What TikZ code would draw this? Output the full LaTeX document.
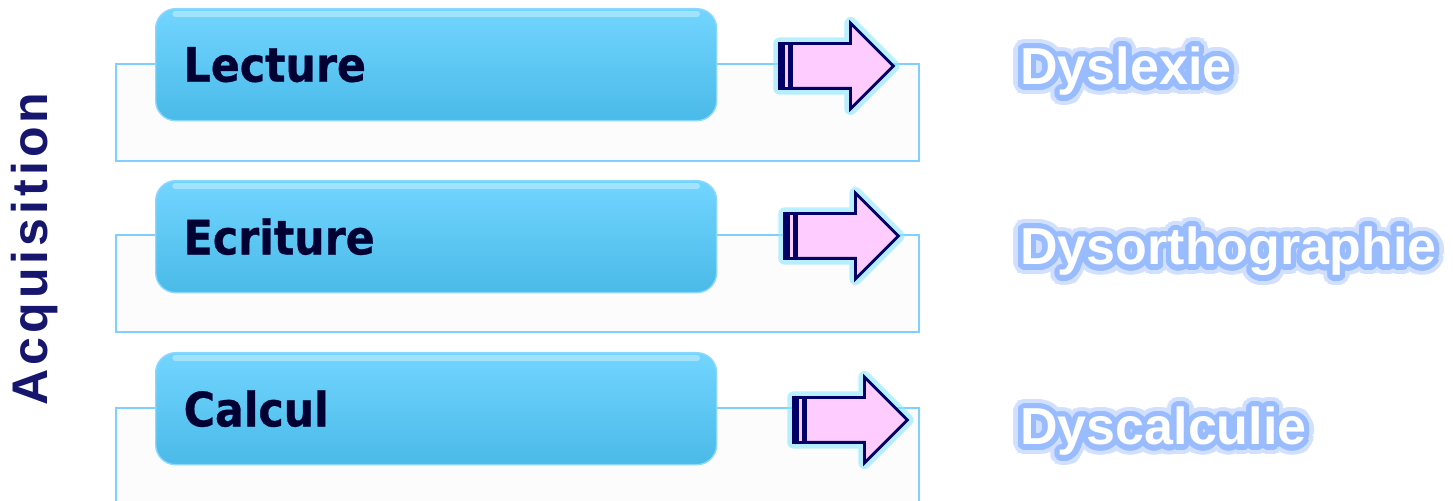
\documentclass[tikz,border=0pt]{standalone}
\usepackage{fontspec}
\setmainfont{Liberation Sans}
\newfontfamily\boxfont{DejaVuSansCondensed-Bold.ttf}[FakeBold=0.6]
\newfontfamily\acqfont{Liberation Sans Bold}[LetterSpace=8]
\newfontfamily\outfont{Liberation Sans Bold}
\usepackage{contour}
\contournumber{32}
\usetikzlibrary{shapes.arrows}
\definecolor{boxtop}{HTML}{72D5FF}
\definecolor{boxbottom}{HTML}{4ABAE8}
\definecolor{boxline}{HTML}{8AD8FF}
\definecolor{frameline}{HTML}{7FD0FF}
\definecolor{framefill}{HTML}{FCFCFC}
\definecolor{darknavy}{HTML}{000033}
\definecolor{arrownavy}{HTML}{000066}
\definecolor{arrowpink}{HTML}{FFCCFF}
\definecolor{arrowglow}{HTML}{8AE6FF}
\definecolor{textglow}{HTML}{99BBFF}
\definecolor{softglow}{HTML}{D2E0FF}
\definecolor{titlenavy}{HTML}{16166E}

\begin{document}
\begin{tikzpicture}
  \tikzstyle{frame} = [rectangle, draw=frameline, line width=1.1pt, fill=framefill, minimum width=16.06cm, minimum height=1.94cm, inner sep=0pt, anchor=north west]
  \tikzstyle{bluebox} = [rectangle, rounded corners=0.4cm, draw=boxline, line width=0.8pt, top color=boxtop, bottom color=boxbottom, minimum height=2.24cm, text width=10.1cm, inner xsep=0.56cm, align=left, anchor=north west, text=darknavy, font=\boxfont\fontsize{27}{30}\selectfont]
  \tikzstyle{gloss} = [white, opacity=0.35, line width=3pt, line cap=round]
  \tikzstyle{blockarrow} = [single arrow, draw=arrownavy, line width=1.6pt, fill=arrowpink, minimum height=2.28cm, single arrow head extend=0.41cm, inner ysep=0.42cm, inner xsep=0pt, anchor=tail, preaction={draw=arrowglow, line width=7pt, opacity=0.6, line join=round}]
  \tikzstyle{tailbar} = [fill=arrownavy]
  \tikzstyle{tailline} = [draw=arrowpink, line width=1.6pt, shorten >=1.6pt, shorten <=1.6pt]
  \tikzstyle{outcome} = [anchor=base west, inner sep=0pt, text=white, font=\outfont\fontsize{29.6}{32}\selectfont]
  \tikzstyle{halo} = [anchor=base west, inner sep=0pt, text=softglow, font=\outfont\fontsize{29.6}{32}\selectfont]
  \useasboundingbox (0,0) rectangle (29.06,10.02);
  % frames behind the boxes
  \node[frame] (frameLecture) at (2.30,8.76) {};
  \node[frame] (frameEcriture) at (2.30,5.34) {};
  \node[frame] (frameCalcul) at (2.30,1.88) {};
  % boxes
  \node[bluebox] (lecture) at (3.10,9.86) {Lecture};
  \node[bluebox] (ecriture) at (3.10,6.42) {Ecriture};
  \node[bluebox] (calcul) at (3.10,2.98) {Calcul};
  \draw[gloss] ([xshift=0.4cm,yshift=-0.12cm]lecture.north west) -- ([xshift=-0.4cm,yshift=-0.12cm]lecture.north east);
  \draw[gloss] ([xshift=0.4cm,yshift=-0.12cm]ecriture.north west) -- ([xshift=-0.4cm,yshift=-0.12cm]ecriture.north east);
  \draw[gloss] ([xshift=0.4cm,yshift=-0.12cm]calcul.north west) -- ([xshift=-0.4cm,yshift=-0.12cm]calcul.north east);
  % arrows
  \node[blockarrow] (arrLecture) at (15.56,8.70) {};
  \node[blockarrow] (arrEcriture) at (15.66,5.30) {};
  \node[blockarrow] (arrCalcul) at (15.84,1.62) {};
  \fill[tailbar] (arrLecture.before tail) rectangle ([xshift=0.3cm]arrLecture.after tail);
  \fill[tailbar] (arrEcriture.before tail) rectangle ([xshift=0.3cm]arrEcriture.after tail);
  \fill[tailbar] (arrCalcul.before tail) rectangle ([xshift=0.3cm]arrCalcul.after tail);
  \draw[tailline] ([xshift=0.17cm]arrLecture.before tail) -- ([xshift=0.17cm]arrLecture.after tail);
  \draw[tailline] ([xshift=0.17cm]arrEcriture.before tail) -- ([xshift=0.17cm]arrEcriture.after tail);
  \draw[tailline] ([xshift=0.17cm]arrCalcul.before tail) -- ([xshift=0.17cm]arrCalcul.after tail);
  % outcomes, soft halo first
  \node[halo] (dyslexieHalo) at (20.40,8.32) {\contourlength{5.5pt}\contour{softglow}{Dyslexie}};
  \node[halo] (dysorthoHalo) at (20.40,4.72) {\contourlength{5.5pt}\contour{softglow}{Dysorthographie}};
  \node[halo] (dyscalculieHalo) at (20.40,1.12) {\contourlength{5.5pt}\contour{softglow}{Dyscalculie}};
  \node[outcome] (dyslexie) at (20.40,8.32) {\contourlength{3pt}\contour{textglow}{Dyslexie}};
  \node[outcome] (dysortho) at (20.40,4.72) {\contourlength{3pt}\contour{textglow}{Dysorthographie}};
  \node[outcome] (dyscalculie) at (20.40,1.12) {\contourlength{3pt}\contour{textglow}{Dyscalculie}};
  % side title
  \node[rotate=90, text=titlenavy, font=\acqfont\fontsize{28.5}{30}\selectfont] (acquisition) at (0.70,5.04) {Acquisition};
\end{tikzpicture}
\end{document}
